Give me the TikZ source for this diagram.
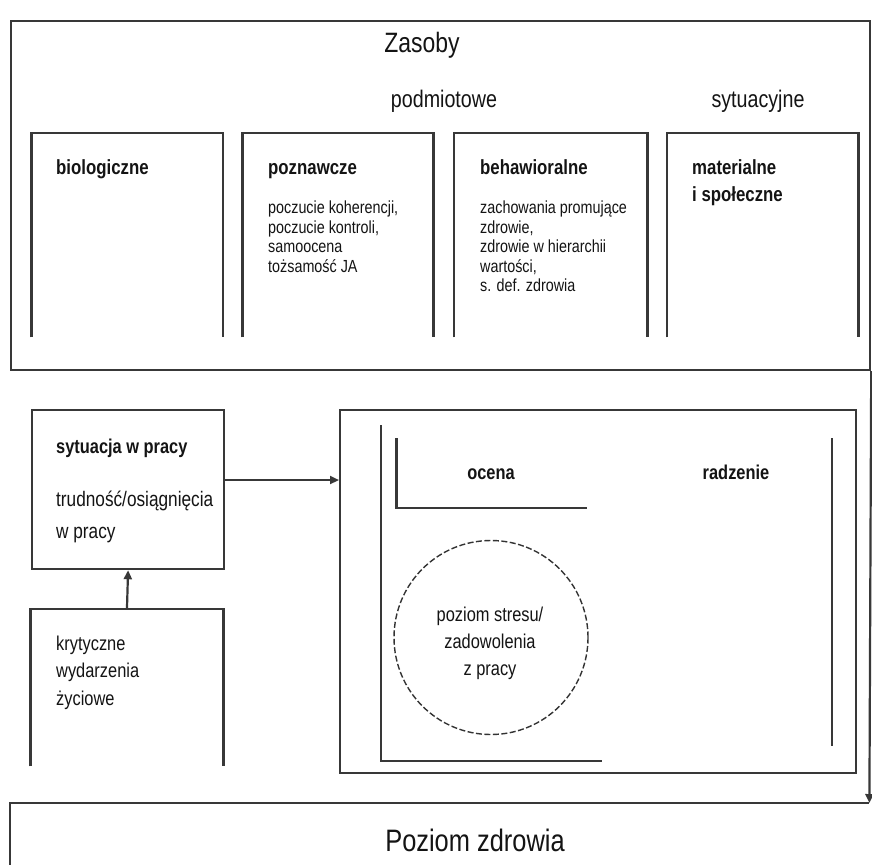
\documentclass[tikz,border=0pt]{standalone}
\usepackage{fontspec}
\setmainfont{Liberation Sans}[FakeStretch=0.82]
\usetikzlibrary{arrows.meta}
\begin{document}
\begin{tikzpicture}[x=1pt,y=-1pt,
  line/.style={draw=black!78, line width=2.2pt},
  frame/.style={rectangle, inner sep=0pt, anchor=north west},
  txt/.style={inner sep=0pt, text=black!92},
  lt/.style={txt, anchor=base west, align=left},
  ct/.style={txt, anchor=base, align=center},
  arr/.style={line, -{Triangle[length=9pt,width=8pt]}},
  hb/.style={font=\fontsize{20.5}{24}\selectfont\bfseries},
  sm/.style={font=\fontsize{17.5}{19.5}\selectfont}
]
\useasboundingbox (0,0) rectangle (872,864);
\fill[white] (0,0) rectangle (872,864);

% top box
\node[frame, line, minimum width=859pt, minimum height=349pt] (top) at (10,20) {};
\node[ct, font=\fontsize{28}{30}\selectfont] (zas) at (422,53) {Zasoby};
\node[ct, font=\fontsize{24}{26}\selectfont] (podm) at (444,108) {podmiotowe};
\node[ct, font=\fontsize{24}{26}\selectfont] (syt) at (758,108) {sytuacyjne};

% four open boxes
\node[frame, minimum width=191pt, minimum height=204pt] (bio) at (31.5,133) {};
\node[frame, minimum width=190.5pt, minimum height=204pt] (pozn) at (242.5,133) {};
\node[frame, minimum width=193pt, minimum height=204pt] (beh) at (454,133) {};
\node[frame, minimum width=191pt, minimum height=204pt] (mat) at (667,133) {};
\foreach \b in {bio,pozn,beh,mat}
  \draw[line] (\b.south west) -- (\b.north west) -- (\b.north east) -- (\b.south east);

\node[lt, hb] (bioT) at (56,174) {biologiczne};
\node[lt, hb] (poznT) at (268,174) {poznawcze};
\node[lt, sm] (poznB) at (268,272) {poczucie koherencji,\\poczucie kontroli,\\samoocena\\tożsamość JA};
\node[lt, hb] (behT) at (480,174) {behawioralne};
\node[lt, sm] (behB) at (480,291.5) {zachowania promujące\\zdrowie,\\zdrowie w hierarchii\\wartości,\\s. def. zdrowia};
\node[lt, font=\fontsize{20.5}{27}\selectfont\bfseries] (matT) at (692,201) {materialne\\i społeczne};

% work situation
\node[frame, line, minimum width=192pt, minimum height=159pt] (syt2) at (31,409) {};
\node[lt, font=\fontsize{20}{24}\selectfont\bfseries] (sytT) at (56,453) {sytuacja w pracy};
\node[lt, font=\fontsize{21}{32}\selectfont] (sytB) at (56,538) {trudność/osiągnięcia\\w pracy};

% critical life events (open bottom)
\node[frame, minimum width=192.5pt, minimum height=157pt] (kryt) at (30.5,609) {};
\draw[line] (kryt.south west) -- (kryt.north west) -- (kryt.north east) -- (kryt.south east);
\node[lt, font=\fontsize{20}{27.5}\selectfont] (krytT) at (56,705) {krytyczne\\wydarzenia\\życiowe};

% inner process box
\node[frame, line, minimum width=516pt, minimum height=363pt] (proc) at (339,409) {};
\coordinate (Lt) at (381,425);
\coordinate (Lc) at (381,761);
\coordinate (Le) at (602,761);
\draw[line] (Lt) -- (Lc) -- (Le);
\coordinate (Ot) at (396.5,438);
\coordinate (Oc) at (396.5,508);
\coordinate (Oe) at (587,508);
\draw[line] (Ot) -- (Oc) -- (Oe);
\coordinate (Rt) at (832,438);
\coordinate (Rb) at (832,746);
\draw[line] (Rt) -- (Rb);
\node[ct, font=\fontsize{20}{24}\selectfont\bfseries] (ocena) at (491,479) {ocena};
\node[ct, font=\fontsize{20}{24}\selectfont\bfseries] (radz) at (736,479) {radzenie};
\node[circle, draw=black!80, line width=1.4pt, dash pattern=on 6pt off 2.5pt, minimum size=194pt, inner sep=0pt] (circ) at (491,637.5) {};
\node[ct, font=\fontsize{20}{27}\selectfont] (circT) at (490,675) {poziom stresu/\\zadowolenia\\z pracy};

% bottom box (open, runs off the page)
\node[frame, minimum width=859pt, minimum height=80pt] (health) at (10,803) {};
\draw[line] (health.south west) -- (health.north west) -- (health.north east);
\node[ct, font=\fontsize{31}{33}\selectfont] (hT) at (475,851) {Poziom zdrowia};

% connectors
\draw[arr] (kryt.north) -- (syt2.south);
\draw[arr] (syt2.east |- 0,480) -- (proc.west |- 0,480);
\draw[arr] (top.south east) -- (health.north east);
\end{tikzpicture}
\end{document}
